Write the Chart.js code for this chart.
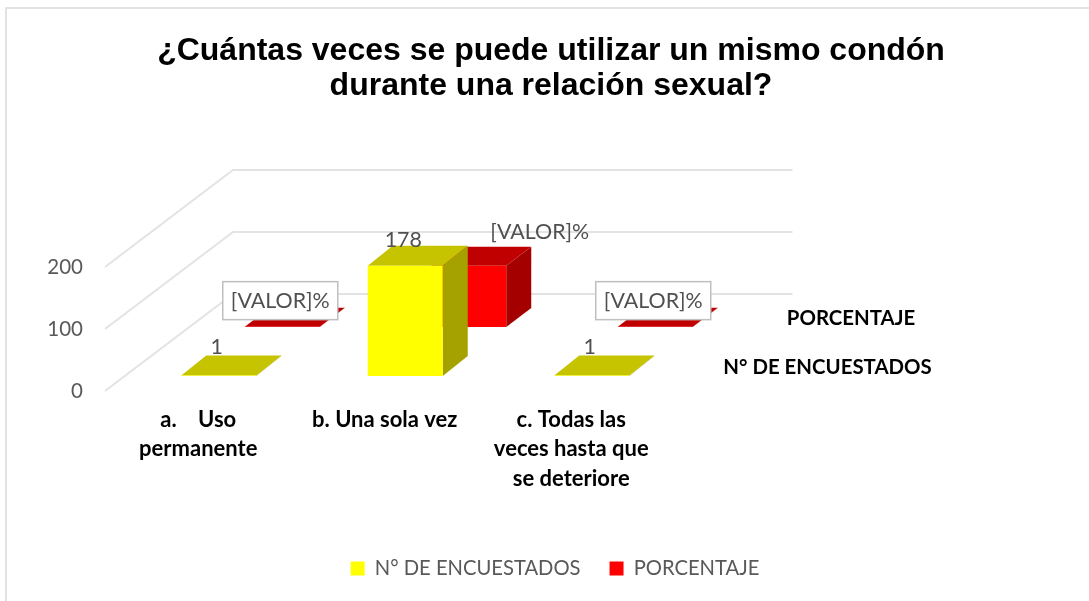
<!DOCTYPE html>
<html lang="es">
<head>
<meta charset="utf-8">
<title>Condón</title>
<script src="https://cdn.jsdelivr.net/npm/chart.js@4/dist/chart.umd.min.js"></script>
<style>
  html, body { margin: 0; padding: 0; background: #fff; }
  canvas { display: block; }
</style>
</head>
<body>
<canvas id="chart" width="1089" height="601"></canvas>
<script>
// data
const titleLines = ["¿Cuántas veces se puede utilizar un mismo condón", "durante una relación sexual?"];
const categories = [["a.    Uso", "permanente"], ["b. Una sola vez"], ["c. Todas las", "veces hasta que", "se deteriore"]];
const seriesNames = ["N° DE ENCUESTADOS", "PORCENTAJE"];
const encuestados = [1, 178, 1];
const porcentaje = [0.56, 98.89, 0.56];
const encuestadosLabels = ["1", "178", "1"];
const porcentajeLabels = ["[VALOR]%", "[VALOR]%", "[VALOR]%"];
const yTicks = [0, 100, 200];

const FONT = "Lato, 'Noto Sans', sans-serif";
const TEXT_GREY = "#595959";
const WALL = { dx: 128, dy: -97 };

// one entry per series: where its row sits on the floor and how it is shaded
const rows = [
  { shiftX: 20.5, shiftY: -15, depthX: 25, depthY: -20, top: "#C6C300", side: "#A5A200", labels: encuestadosLabels,
    labelPos: [[-2, -28], [-2, -26], [-2, -28]], boxed: [false, false, false], axisX: 163 },
  { shiftX: 84, shiftY: -64, depthX: 25, depthY: -19, top: "#C00000", side: "#A50000", labels: porcentajeLabels,
    labelPos: [[-2, -26], [71, -34], [-2, -26]], boxed: [true, false, true], axisX: 186.5 },
];

const fakeDepth = {
  id: "fakeDepth",
  afterLayout(chart) {
    // legend sits a little right of the title in the picture
    chart.legend.left += 4;
    chart.legend.right += 4;
  },
  beforeDraw(chart) {
    const { ctx, width, height } = chart;
    // frame of the picture, only top and left show
    ctx.save();
    ctx.fillStyle = "#E2E2E2";
    ctx.fillRect(5, 7, width - 5, 2);
    ctx.fillRect(5, 7, 2, height - 7);
    ctx.restore();
  },
  beforeDatasetsDraw(chart) {
    const { ctx, chartArea, scales } = chart;
    ctx.save();
    ctx.strokeStyle = "#E3E3E3";
    ctx.lineWidth = 2;
    yTicks.forEach(t => {
      const y = scales.y.getPixelForValue(t);
      ctx.beginPath();
      ctx.moveTo(chartArea.left, y);
      ctx.lineTo(chartArea.left + WALL.dx, y + WALL.dy);
      ctx.lineTo(chartArea.right + WALL.dx, y + WALL.dy);
      ctx.stroke();
    });
    ctx.restore();
  },
  beforeDatasetDraw(chart, args) {
    const { ctx } = chart;
    const row = rows[args.index];
    ctx.save();
    ctx.translate(row.shiftX, row.shiftY);
    args.meta.data.forEach(bar => {
      const x0 = bar.x - bar.width / 2;
      const x1 = bar.x + bar.width / 2;
      const { depthX: dx, depthY: dy } = row;
      ctx.fillStyle = row.side;
      ctx.beginPath();
      ctx.moveTo(x1, bar.y);
      ctx.lineTo(x1 + dx, bar.y + dy);
      ctx.lineTo(x1 + dx, bar.base + dy);
      ctx.lineTo(x1, bar.base);
      ctx.closePath();
      ctx.fill();
      ctx.fillStyle = row.top;
      ctx.beginPath();
      ctx.moveTo(x0, bar.y);
      ctx.lineTo(x1, bar.y);
      ctx.lineTo(x1 + dx, bar.y + dy);
      ctx.lineTo(x0 + dx, bar.y + dy);
      ctx.closePath();
      ctx.fill();
    });
  },
  afterDatasetDraw(chart) {
    chart.ctx.restore();
  },
  afterDatasetsDraw(chart) {
    const { ctx, chartArea, scales } = chart;
    ctx.save();
    ctx.textAlign = "center";
    ctx.textBaseline = "middle";
    rows.forEach((row, r) => {
      chart.getDatasetMeta(r).data.forEach((bar, i) => {
        const cx = bar.x + row.shiftX + row.labelPos[i][0];
        const cy = bar.y + row.shiftY + row.labelPos[i][1];
        ctx.font = "21.4px " + FONT;
        if (row.boxed[i]) {
          ctx.fillStyle = "#fff";
          ctx.strokeStyle = "#BFBFBF";
          ctx.lineWidth = 1.5;
          ctx.fillRect(cx - 57.5, cy - 19, 115, 38);
          ctx.strokeRect(cx - 57.5, cy - 19, 115, 38);
        }
        ctx.fillStyle = "#505050";
        ctx.fillText(row.labels[i], cx, cy);
      });
      // series names along the depth axis
      ctx.font = "bold 20.4px " + FONT;
      ctx.fillStyle = "#000";
      ctx.fillText(seriesNames[r], chartArea.right + row.axisX, scales.y.getPixelForValue(0) + row.shiftY - 9);
    });
    ctx.restore();
  },
};

new Chart(document.getElementById("chart"), {
  type: "bar",
  data: {
    labels: categories,
    datasets: [
      { label: seriesNames[0], data: encuestados, backgroundColor: "#FFFF00" },
      { label: seriesNames[1], data: porcentaje, backgroundColor: "#FF0000" },
    ],
  },
  options: {
    responsive: false,
    animation: false,
    grouped: false,
    clip: false,
    barPercentage: 0.402,
    categoryPercentage: 1,
    borderWidth: 0,
    layout: { padding: { left: 13, right: 0, top: 0, bottom: 12.4 } },
    plugins: {
      tooltip: { enabled: false },
      title: {
        display: true,
        text: titleLines,
        color: "#000",
        font: { family: "'Liberation Sans', Arial, sans-serif", size: 32, weight: "bold", lineHeight: 35 / 32 },
        padding: { top: 33.5, bottom: 163.5 },
      },
      legend: {
        position: "bottom",
        labels: { boxWidth: 14, boxHeight: 14, padding: 29, color: TEXT_GREY, font: { family: FONT, size: 20.2 } },
      },
    },
    scales: {
      x: {
        grid: { display: false, drawTicks: false },
        border: { display: false },
        ticks: {
          color: "#000", padding: 14, maxRotation: 0, autoSkip: false,
          font: { family: FONT, size: 22, weight: "bold", lineHeight: 29.5 / 22 },
        },
        afterFit(s) { s.height = 138.4; },
      },
      y: {
        min: 0,
        max: 200,
        grid: { display: false, drawTicks: false },
        border: { display: false },
        ticks: { stepSize: 100, color: TEXT_GREY, padding: 22, font: { family: FONT, size: 20.5 } },
        afterFit(s) { s.width = 92; },
      },
      // empty axis, keeps the room on the right that the depth of the chart needs
      yDepth: {
        position: "right",
        grid: { display: false, drawTicks: false },
        border: { display: false },
        ticks: { display: false },
        afterFit(s) { s.width = 424.5; },
      },
    },
  },
  plugins: [fakeDepth],
});
</script>
</body>
</html>
